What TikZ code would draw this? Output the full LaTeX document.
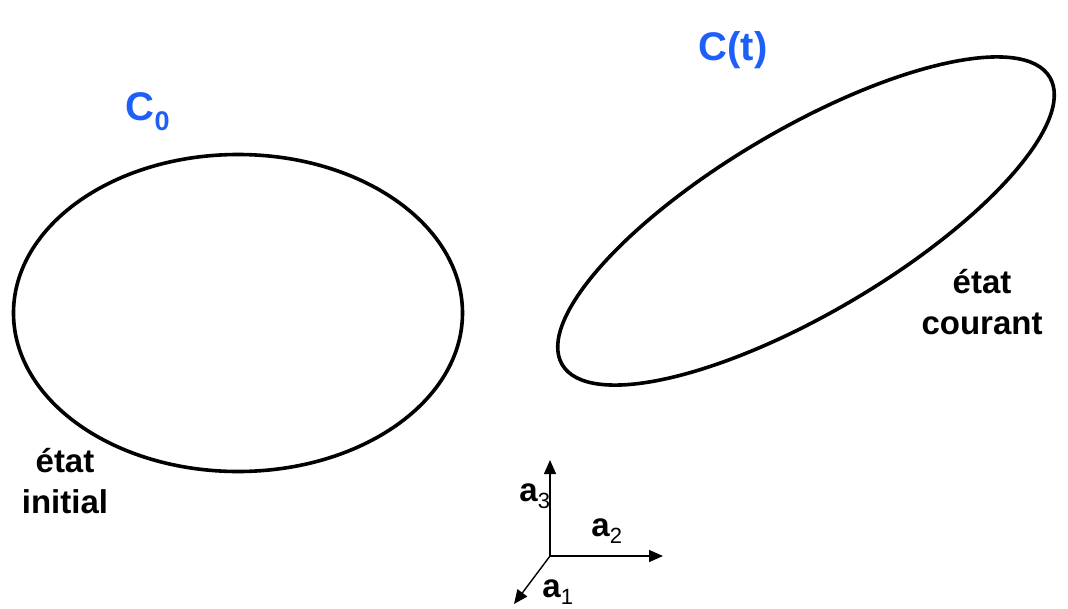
\documentclass[tikz,border=0pt]{standalone}
\usepackage{fontspec}
\setmainfont{Liberation Sans}
\usetikzlibrary{arrows.meta}
\definecolor{bleuC}{RGB}{30,95,250}
\tikzset{
  contour/.style={line width=3.6pt},
  etiquette/.style={font=\fontsize{33}{41}\selectfont\bfseries, align=center, inner sep=0pt},
  nomcourbe/.style={font=\fontsize{40}{42}\selectfont\bfseries, text=bleuC, inner sep=0pt},
  vecteur/.style={line width=1.4pt, -{Triangle[length=14pt,width=12pt]}},
  nomvect/.style={font=\fontsize{33}{35}\selectfont\bfseries, inner sep=0pt}
}
\begin{document}
\begin{tikzpicture}[x=1pt,y=-1pt]
    \useasboundingbox (0,0) rectangle (1068,608);

    % Etat initial
    \draw[contour] (238,313) ellipse (224.5 and 158.5);
    \node[nomcourbe] (c0) at (148,112) {C\textsubscript{\fontsize{27}{29}\selectfont 0}};
    \node[etiquette] (init) at (65,481) {état\\initial};

    % Etat courant
    \draw[contour, rotate around={30.5:(806,221)}] (806,221) ellipse (283 and 92);
    \node[nomcourbe] (ct) at (733,50) {C(t)};
    \node[etiquette] (cour) at (982,302) {état\\courant};

    % Repere
    \coordinate (o) at (550,556);
    \coordinate (e3) at (550,460);
    \coordinate (e2) at (663,556);
    \coordinate (e1) at (514,604);
    \draw[vecteur] (o) -- (e3);
    \draw[vecteur] (o) -- (e2);
    \draw[vecteur] (o) -- (e1);
    \node[nomvect] (a3) at (535,496) {a\textsubscript{\fontsize{22}{24}\selectfont\mdseries 3}};
    \node[nomvect] (a2) at (607,531) {a\textsubscript{\fontsize{22}{24}\selectfont\mdseries 2}};
    \node[nomvect] (a1) at (558,592) {a\textsubscript{\fontsize{22}{24}\selectfont\mdseries 1}};
\end{tikzpicture}
\end{document}
